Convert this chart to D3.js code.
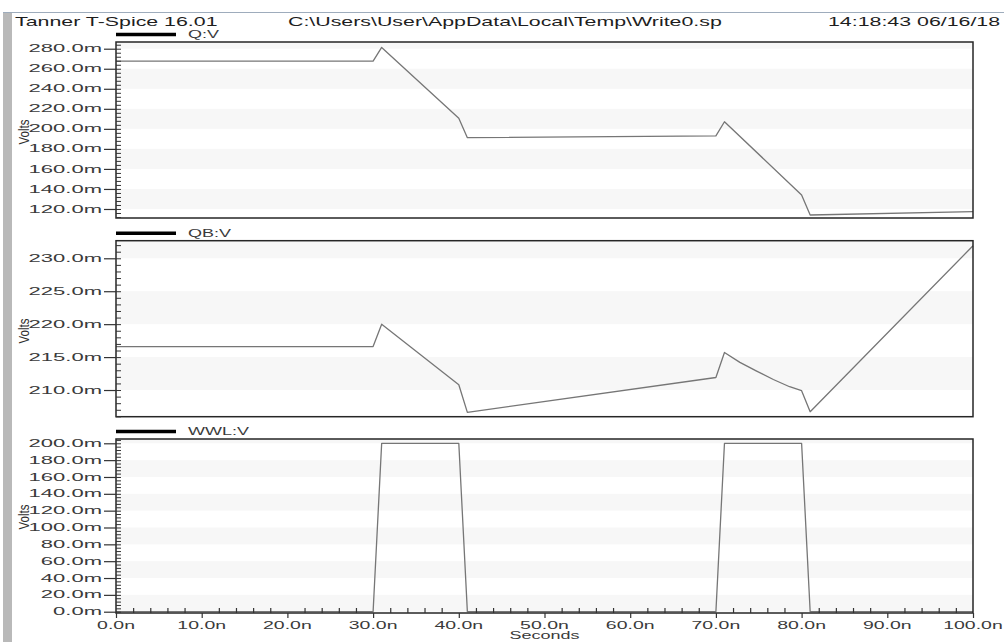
<!DOCTYPE html>
<html><head><meta charset="utf-8">
<script src="https://cdn.jsdelivr.net/npm/d3@7"></script>
<style>html,body{margin:0;padding:0;background:#fff;overflow:hidden}</style>
</head><body><svg id="c" width="1004" height="642"></svg>
<script>
// ---- data ----
const headerLeft = "Tanner T-Spice 16.01";
const headerMid = "C:\\Users\\User\\AppData\\Local\\Temp\\Write0.sp";
const headerRight = "14:18:43 06/16/18";
const xTicks = [0, 10, 20, 30, 40, 50, 60, 70, 80, 90, 100];
const xLabel = "Seconds";
const yLabel = "Volts";

const qName = "Q:V";
const qTime = [0, 30, 31, 40, 41, 70, 71, 80, 81, 100];
const qVals = [267.7, 267.7, 281.3, 210.5, 191.2, 193.0, 207.1, 134.0, 114.0, 117.3];
const qTicks = [120, 140, 160, 180, 200, 220, 240, 260, 280];

const qbName = "QB:V";
const qbTime = [0, 30, 31, 40, 41, 70, 71, 72.8, 74.7, 76.7, 78.6, 80, 81, 100];
const qbVals = [216.6, 216.6, 220.0, 210.8, 206.6, 211.9, 215.7, 214.2, 212.9, 211.6, 210.5, 209.9, 206.7, 231.9];
const qbTicks = [210, 215, 220, 225, 230];

const wwlName = "WWL:V";
const wwlTime = [0, 30, 31, 40, 41, 70, 71, 80, 81, 100];
const wwlVals = [0, 0, 200, 200, 0, 0, 200, 200, 0, 0];
const wwlTicks = [0, 20, 40, 60, 80, 100, 120, 140, 160, 180, 200];

// ---- layout ----
const SX = 1.8;
const FONT = "Arial, 'Liberation Sans', sans-serif";
const L = 116, R = 973;
const panels = [
  {name:qName, t:qTime, v:qVals, ticks:qTicks, minorStep:4, top:42, bottom:218, domain:[111, 286.7], volY:132},
  {name:qbName, t:qbTime, v:qbVals, ticks:qbTicks, minorStep:1, top:240.7, bottom:416.7, domain:[205.95, 232.67], volY:331},
  {name:wwlName, t:wwlTime, v:wwlVals, ticks:wwlTicks, minorStep:4, top:439, bottom:613, domain:[-1.54, 205.1], volY:517}
];

const svg = d3.select('#c');
svg.append('rect').attr('width',1004).attr('height',642).attr('fill','#fff');
svg.append('rect').attr('x',3).attr('y',12).attr('width',9).attr('height',630).attr('fill','#b9b9b9');
svg.append('line').attr('x1',3).attr('x2',1004).attr('y1',12.5).attr('y2',12.5).attr('stroke','#9eacbc').attr('stroke-width',1);

function sText(parent, x, y, str, size, anchor, sx, color) {
  return parent.append('text')
    .attr('transform', `translate(${x},${y}) scale(${sx},1)`)
    .attr('text-anchor', anchor || 'start')
    .attr('font-family', FONT).attr('font-size', size)
    .attr('fill', color || '#2a2a2a')
    .text(str);
}
sText(svg, 15, 26, headerLeft, 12, 'start', 1.78, '#1e1e1e');
sText(svg, 288, 26, headerMid, 12, 'start', 1.78, '#1e1e1e');
sText(svg, 828, 26, headerRight, 12, 'start', 1.78, '#1e1e1e');

const x = d3.scaleLinear().domain([0,100]).range([L,R]);
const yFmt = d => d3.format('.1f')(d) + 'm';
const xFmt = d => d3.format('.1f')(d) + 'n';

panels.forEach((p, pi) => {
  const y = d3.scaleLinear().domain(p.domain).range([p.bottom, p.top]);
  const g = svg.append('g');
  // alternating bands
  const step = p.ticks[1] - p.ticks[0];
  const k0 = Math.floor((p.domain[0] - p.ticks[0]) / step);
  const k1 = Math.ceil((p.domain[1] - p.ticks[0]) / step);
  d3.range(k0, k1).forEach(k => {
    if (((k % 2) + 2) % 2 !== 0) return;
    const a = Math.max(p.domain[0], p.ticks[0] + k*step);
    const b = Math.min(p.domain[1], p.ticks[0] + (k+1)*step);
    if (b <= a) return;
    g.append('rect').attr('x', L).attr('width', R-L)
      .attr('y', y(b)).attr('height', y(a)-y(b)).attr('fill', '#f7f7f7');
  });
  // data line
  g.append('path').datum(d3.zip(p.t, p.v))
    .attr('d', d3.line().x(d => x(d[0])).y(d => y(d[1])))
    .attr('fill','none').attr('stroke','#767676').attr('stroke-width',1.3)
    .attr('stroke-linejoin','round');
  // frame
  g.append('rect').attr('x', L).attr('y', p.top).attr('width', R-L).attr('height', p.bottom-p.top)
    .attr('fill','none').attr('stroke','#262626').attr('stroke-width',1.5);
  // major y ticks (outside)
  const ax = g.append('g').attr('transform', `translate(${L},0)`)
    .call(d3.axisLeft(y).tickValues(p.ticks).tickSize(12).tickSizeOuter(0).tickFormat(''));
  ax.select('.domain').remove();
  ax.selectAll('line').attr('stroke','#333').attr('stroke-width',1.2);
  p.ticks.forEach(d => {
    sText(g, L-14, y(d) + 3.6, yFmt(d), 10.5, 'end', 2.1, '#3a3a3a');
  });
  // minor y ticks (inside)
  const minor = d3.range(Math.ceil(p.domain[0]/p.minorStep)*p.minorStep, p.domain[1], p.minorStep);
  const mx = g.append('g').attr('transform', `translate(${L},0)`)
    .call(d3.axisRight(y).tickValues(minor).tickSize(5).tickSizeOuter(0).tickFormat(''));
  mx.select('.domain').remove();
  mx.selectAll('line').attr('stroke','#333').attr('stroke-width',1);
  // legend
  g.append('line').attr('x1', L).attr('x2', L+60).attr('y1', p.top-7.5).attr('y2', p.top-7.5)
    .attr('stroke','#000').attr('stroke-width',3.5);
  sText(g, L+72, p.top-4, p.name, 10, 'start', SX, '#3a3a3a');
  // y label
  g.append('text')
    .attr('transform', `translate(24.5,${p.volY}) scale(1.25,1) rotate(-90)`)
    .attr('text-anchor','middle').attr('dominant-baseline','central')
    .attr('font-family', FONT).attr('font-size', 11.5).attr('fill','#2f2f2f')
    .text(yLabel);

  if (pi === panels.length - 1) {
    const xa = g.append('g').attr('transform', `translate(0,${p.bottom})`)
      .call(d3.axisBottom(x).tickValues(xTicks).tickSize(5).tickSizeOuter(0).tickFormat(''));
    xa.select('.domain').remove();
    xa.selectAll('line').attr('stroke','#333').attr('stroke-width',1.2);
    xTicks.forEach(d => {
      sText(g, x(d), p.bottom + 15.5, xFmt(d), 10, 'middle', 1.95, '#3a3a3a');
    });
    const xMinor = d3.range(2, 100, 2).filter(v => v % 10 !== 0);
    const xm = g.append('g').attr('transform', `translate(0,${p.bottom})`)
      .call(d3.axisTop(x).tickValues(xMinor).tickSize(5).tickSizeOuter(0).tickFormat(''));
    xm.select('.domain').remove();
    xm.selectAll('line').attr('stroke','#333').attr('stroke-width',1.2);
    sText(g, (L+R)/2, 639, xLabel, 10, 'middle', SX, '#3a3a3a');
  }
});
</script>
</body></html>
